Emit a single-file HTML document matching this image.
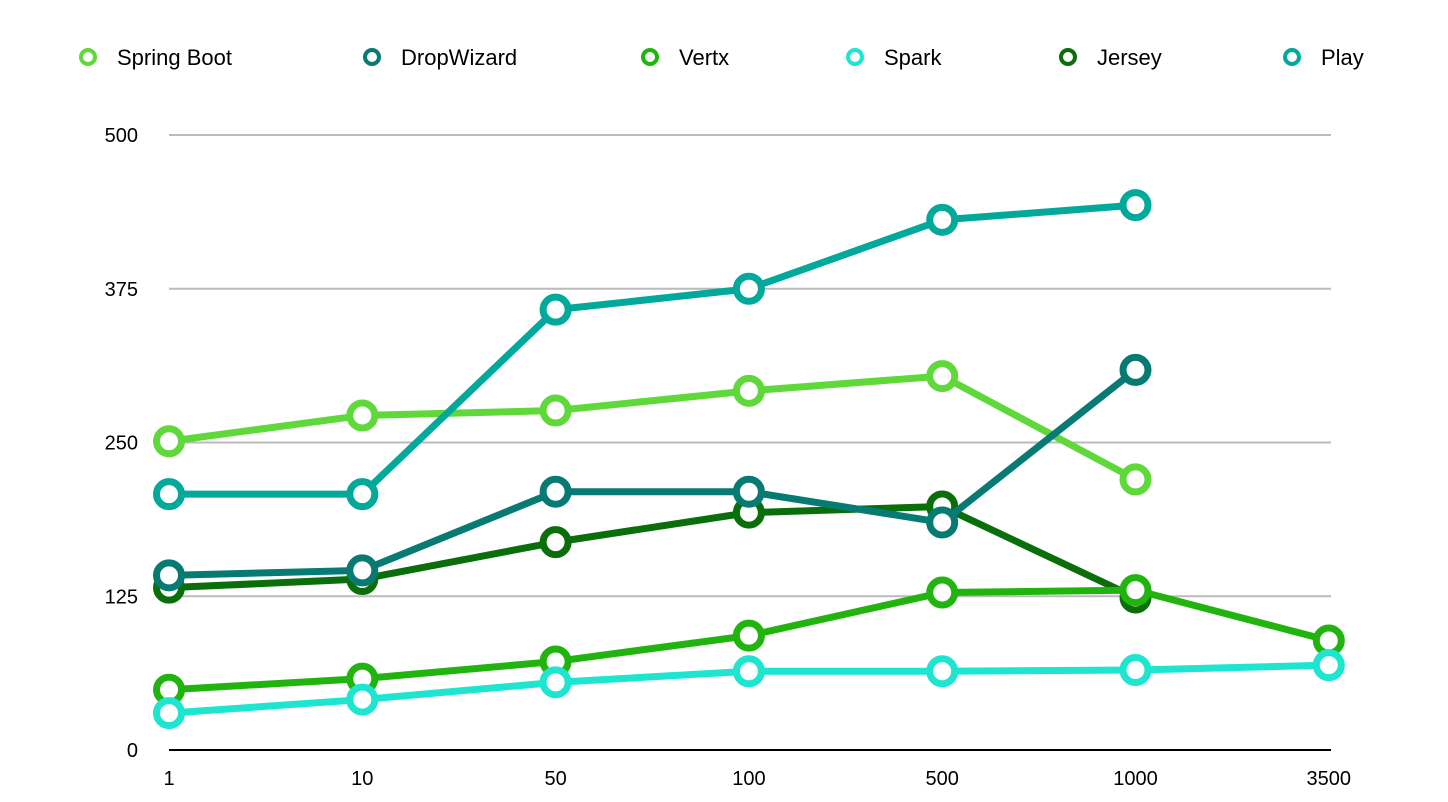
<!DOCTYPE html>
<html><head><meta charset="utf-8"><style>body{margin:0;background:#fff}svg{display:block;font-family:"Liberation Sans",sans-serif}</style></head>
<body>
<svg id="chart" width="1448" height="802" xmlns="http://www.w3.org/2000/svg"></svg>
<script>
const categories=["1","10","50","100","500","1000","3500"];
const yTicks=[0,125,250,375,500];
const seriesNames=["Spring Boot","DropWizard","Vertx","Spark","Jersey","Play"];
const colors=["#5fd83a","#077a73","#22b40e","#1de5d0","#0a6e0a","#00a99a"];
const springBoot=[251,272,276,292,304,220,null];
const dropWizard=[142,146,210,210,185,309,null];
const vertx=[49,58,72,93,128,130,89];
const spark=[30,41,55,64,64,65,69];
const jersey=[132,139,169,193,198,124,null];
const play=[208,208,358,375,431,443,null];
const series=[springBoot,dropWizard,vertx,spark,jersey,play];
const legendX=[88,372,650,855,1068,1292];
const drawOrder=[4,0,5,1,2,3];

const svg=document.getElementById('chart');
const NS="http://www.w3.org/2000/svg";
const x=i=>169+i*193.3;
const y=v=>750-v*1.23;
function mk(t,a,p){const e=document.createElementNS(NS,t);for(const k in a)e.setAttribute(k,a[k]);(p||svg).appendChild(e);return e;}

yTicks.forEach(t=>{
  if(t>0){const g=mk('line',{x1:169,x2:1331,y1:y(t),y2:y(t),stroke:'#bbb','stroke-width':2});
  
  }
  const l=mk('text',{x:138,y:y(t)+7,'text-anchor':'end','font-size':20,fill:'#000'});
  l.textContent=t;
  
  
});
const ax=mk('line',{x1:169,x2:1331,y1:750,y2:750,stroke:'#000','stroke-width':2});


categories.forEach((c,i)=>{
  const l=mk('text',{x:x(i),y:785,'text-anchor':'middle','font-size':20,fill:'#000'});
  l.textContent=c;
  
  
});
drawOrder.forEach(si=>{
  const s=series[si];
  const g=mk('g',{});
  
  
  let pts=[];s.forEach((v,i)=>{if(v!=null)pts.push(x(i)+','+y(v));});
  const pl=mk('polyline',{points:pts.join(' '),fill:'none',stroke:colors[si],'stroke-width':7,'stroke-linejoin':'round'},g);
  
  
  s.forEach((v,i)=>{if(v==null)return;
    const c=mk('circle',{cx:x(i),cy:y(v),r:12.5,fill:'#fff',stroke:colors[si],'stroke-width':7},g);
    
    
  });
});
seriesNames.forEach((n,si)=>{
  const lg=mk('g',{});
  
  
  mk('circle',{cx:legendX[si],cy:57,r:7,fill:'#fff',stroke:colors[si],'stroke-width':4},lg);
  const t=mk('text',{x:legendX[si]+29,y:65,'font-size':22,fill:'#000'},lg);
  t.textContent=n;
});
</script>
</body></html>
